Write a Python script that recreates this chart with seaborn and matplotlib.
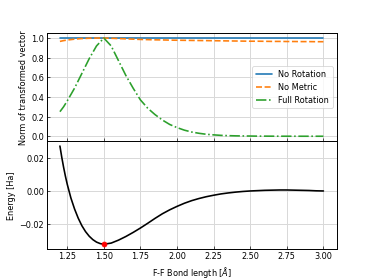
import matplotlib
matplotlib.use("Agg")
import matplotlib.pyplot as plt
import seaborn as sns
import numpy as np

# --- data ---
bond_length = [1.20, 1.225, 1.25, 1.30, 1.35, 1.40, 1.45, 1.50, 1.55, 1.60, 1.65, 1.70,
               1.75, 1.80, 1.85, 1.90, 1.95, 2.00, 2.05, 2.10, 2.15, 2.20, 2.25,
               2.30, 2.35, 2.40, 2.45, 2.50, 2.55, 2.60, 2.65, 2.70, 2.75, 2.80,
               2.85, 2.90, 2.95, 3.00]

no_rotation = [1.0] * len(bond_length)

no_metric = [0.966, 0.974, 0.980, 0.989, 0.995, 0.998, 1.0, 1.0, 0.998, 0.995, 0.992,
             0.989, 0.986, 0.984, 0.982, 0.981, 0.979, 0.978, 0.977, 0.976, 0.975,
             0.974, 0.973, 0.972, 0.971, 0.970, 0.969, 0.968, 0.968, 0.967, 0.966,
             0.966, 0.965, 0.965, 0.964, 0.964, 0.963, 0.963]

full_rotation = [0.25, 0.30, 0.36, 0.49, 0.64, 0.79, 0.92, 1.00, 0.92, 0.77, 0.62,
                 0.49, 0.37, 0.285, 0.22, 0.165, 0.12, 0.088, 0.062, 0.043, 0.030,
                 0.020, 0.014, 0.009, 0.006, 0.004, 0.003, 0.002, 0.001, 0.001,
                 0.0005, 0.0003, 0.0002, 0.0001, 0.0, 0.0, 0.0, 0.0]

# energy curve (finer sampling on the steep left side)
energy_x = [1.20, 1.2125, 1.225, 1.2375, 1.25, 1.275, 1.30, 1.325, 1.35, 1.375,
            1.40, 1.425, 1.45, 1.475, 1.50, 1.55, 1.60, 1.65, 1.70, 1.75, 1.80,
            1.85, 1.90, 1.95, 2.00, 2.05, 2.10, 2.15, 2.20, 2.25, 2.30, 2.35,
            2.40, 2.45, 2.50, 2.55, 2.60, 2.65, 2.70, 2.75, 2.80, 2.85, 2.90,
            2.95, 3.00]
energy = [0.0274, 0.0206, 0.0145, 0.0090, 0.0041, -0.0043, -0.0110, -0.0166,
          -0.0212, -0.0248, -0.0276, -0.0297, -0.0312, -0.0321, -0.0325,
          -0.0318, -0.0300, -0.0278, -0.0253, -0.0226, -0.0197, -0.0167, -0.0139,
          -0.0115, -0.0094, -0.0075, -0.0059, -0.0046, -0.0035, -0.0026, -0.0018,
          -0.0012, -0.0007, -0.0003, 0.0, 0.0002, 0.0004, 0.0005, 0.0006, 0.0006,
          0.0005, 0.0004, 0.0003, 0.0001, 0.0]

min_idx = int(np.argmin(energy))

# --- style ---
sns.set_style("whitegrid", {
    "axes.edgecolor": "black",
    "axes.labelcolor": "black",
    "text.color": "black",
    "xtick.color": "black",
    "ytick.color": "black",
    "grid.color": "#d9d9d9",
    "xtick.direction": "in",
    "ytick.direction": "in",
    "xtick.bottom": True,
    "ytick.left": True,
})
plt.rcParams["font.family"] = ["DejaVu Sans"]

fig, (ax1, ax2) = plt.subplots(2, 1, figsize=(6.4, 4.8), sharex=True)
fig.subplots_adjust(left=0.125, right=0.9, top=0.88, bottom=0.11, hspace=0)

lw = 2.0
sns.lineplot(x=bond_length, y=no_rotation, ax=ax1, color="tab:blue",
             linestyle="-", label="No Rotation", linewidth=lw)
sns.lineplot(x=bond_length, y=no_metric, ax=ax1, color="tab:orange",
             linestyle="--", label="No Metric", linewidth=lw)
sns.lineplot(x=bond_length, y=full_rotation, ax=ax1, color="tab:green",
             linestyle="-.", label="Full Rotation", linewidth=lw)
ax1.set_ylabel("Norm of transformed vector")
ax1.legend(loc="center right")
ax1.tick_params(labelbottom=False)

sns.lineplot(x=energy_x, y=energy, ax=ax2, color="black", linewidth=lw)
ax2.plot(energy_x[min_idx], energy[min_idx], "o", color="red", markersize=6)
ax2.set_ylabel("Energy [Ha]")
ax2.set_xlabel(r"F-F Bond length [$\AA$]")
ax2.set_xticks([1.25, 1.5, 1.75, 2.0, 2.25, 2.5, 2.75, 3.0])
ax2.set_yticks([-0.02, 0.0, 0.02])

for ax in (ax1, ax2):
    for s in ax.spines.values():
        s.set_linewidth(1.2)
        s.set_color("black")
    ax.grid(True, linewidth=1.2)

fig.savefig("out.png", dpi=374 / 6.4)
